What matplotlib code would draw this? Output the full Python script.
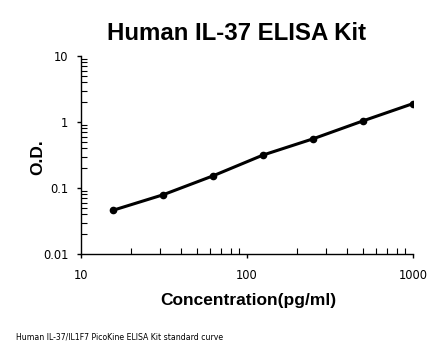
import numpy as np
import matplotlib
matplotlib.use("Agg")
import matplotlib.pyplot as plt
from matplotlib.ticker import LogLocator, NullFormatter, FixedLocator, FixedFormatter

conc = [15.6, 31.25, 62.5, 125, 250, 500, 1000]
od = [0.046, 0.079, 0.153, 0.316, 0.556, 1.04, 1.90]

y_ticks = [0.01, 0.1, 1, 10]
y_labels = ["0.01", "0.1", "1", "10"]
x_ticks = [10, 100, 1000]
x_labels = ["10", "100", "1000"]

fig = plt.figure(figsize=(4.46, 3.56), dpi=100)
ax = fig.add_axes([0.1816, 0.2865, 0.7444, 0.5562])

ax.plot(conc, od, color="black", lw=2.2, marker="o", ms=4.5, solid_capstyle="round")

ax.set_xscale("log")
ax.set_yscale("log")
ax.set_xlim(10, 1000)
ax.set_ylim(0.01, 10)

ax.xaxis.set_major_locator(FixedLocator(x_ticks))
ax.xaxis.set_major_formatter(FixedFormatter(x_labels))
ax.yaxis.set_major_locator(FixedLocator(y_ticks))
ax.yaxis.set_major_formatter(FixedFormatter(y_labels))
ax.xaxis.set_minor_locator(LogLocator(base=10, subs=np.arange(2, 10)))
ax.yaxis.set_minor_locator(LogLocator(base=10, subs=np.arange(2, 10)))
ax.xaxis.set_minor_formatter(NullFormatter())
ax.yaxis.set_minor_formatter(NullFormatter())

for s in ["top", "right"]:
    ax.spines[s].set_visible(False)
for s in ["left", "bottom"]:
    ax.spines[s].set_linewidth(1.0)

ax.tick_params(which="major", direction="out", length=3, width=1, labelsize=8.3, pad=6)
ax.tick_params(axis="x", which="major", pad=8)
ax.tick_params(which="minor", direction="in", length=4, width=0.8)

fig.text(0.530, 0.907, "Human IL-37 ELISA Kit", ha="center", va="center",
         fontsize=17.3, fontweight="bold", family="Liberation Sans")
fig.text(0.556, 0.155, "Concentration(pg/ml)", ha="center", va="center",
         fontsize=12.5, fontweight="bold", family="Liberation Sans")
fig.text(0.085, 0.56, "O.D.", ha="center", va="center", rotation=90,
         fontsize=12.5, fontweight="bold", family="Liberation Sans")
fig.text(0.036, 0.053, "Human IL-37/IL1F7 PicoKine ELISA Kit standard curve",
         ha="left", va="center", fontsize=5.6)

fig.savefig("out.png", dpi=100)
